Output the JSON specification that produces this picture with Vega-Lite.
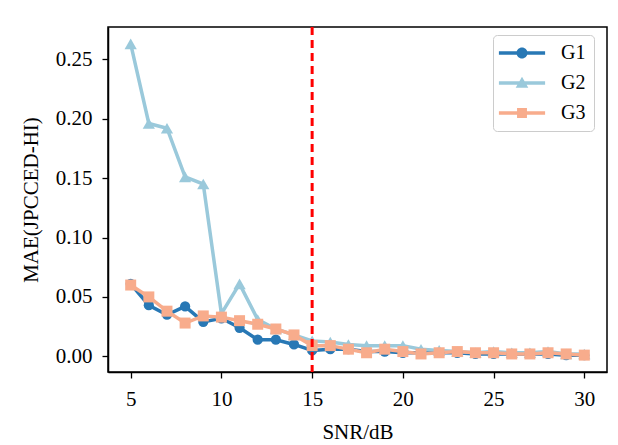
{
  "$schema": "https://vega.github.io/schema/vega-lite/v6.json",
  "autosize": "none",
  "width": 499,
  "height": 345,
  "padding": {"left": 108, "top": 27, "right": 11, "bottom": 73},
  "background": "white",
  "config": {
    "view": {"stroke": "black", "strokeWidth": 1.5},
    "font": "Liberation Serif",
    "axis": {
      "grid": false,
      "domainColor": "black",
      "domainWidth": 1.5,
      "tickColor": "black",
      "tickWidth": 1.3,
      "tickSize": 6,
      "labelFont": "Liberation Serif",
      "labelFontSize": 21,
      "labelColor": "black",
      "titleFont": "Liberation Serif",
      "titleFontSize": 21,
      "titleFontWeight": "normal",
      "titleColor": "black"
    }
  },
  "data": {"values": [
    {"snr":5,"g":"G1","mae":0.061},{"snr":6,"g":"G1","mae":0.043},{"snr":7,"g":"G1","mae":0.035},{"snr":8,"g":"G1","mae":0.042},{"snr":9,"g":"G1","mae":0.029},{"snr":10,"g":"G1","mae":0.032},{"snr":11,"g":"G1","mae":0.024},{"snr":12,"g":"G1","mae":0.014},{"snr":13,"g":"G1","mae":0.014},{"snr":14,"g":"G1","mae":0.010},{"snr":15,"g":"G1","mae":0.005},{"snr":16,"g":"G1","mae":0.006},{"snr":17,"g":"G1","mae":0.006},{"snr":18,"g":"G1","mae":0.004},{"snr":19,"g":"G1","mae":0.004},{"snr":20,"g":"G1","mae":0.003},{"snr":21,"g":"G1","mae":0.003},{"snr":22,"g":"G1","mae":0.003},{"snr":23,"g":"G1","mae":0.003},{"snr":24,"g":"G1","mae":0.002},{"snr":25,"g":"G1","mae":0.002},{"snr":26,"g":"G1","mae":0.002},{"snr":27,"g":"G1","mae":0.002},{"snr":28,"g":"G1","mae":0.002},{"snr":29,"g":"G1","mae":0.001},{"snr":30,"g":"G1","mae":0.001},
    {"snr":5,"g":"G2","mae":0.263},{"snr":6,"g":"G2","mae":0.196},{"snr":7,"g":"G2","mae":0.192},{"snr":8,"g":"G2","mae":0.151},{"snr":9,"g":"G2","mae":0.145},{"snr":10,"g":"G2","mae":0.036},{"snr":11,"g":"G2","mae":0.061},{"snr":12,"g":"G2","mae":0.031},{"snr":13,"g":"G2","mae":0.023},{"snr":14,"g":"G2","mae":0.018},{"snr":15,"g":"G2","mae":0.013},{"snr":16,"g":"G2","mae":0.012},{"snr":17,"g":"G2","mae":0.010},{"snr":18,"g":"G2","mae":0.009},{"snr":19,"g":"G2","mae":0.009},{"snr":20,"g":"G2","mae":0.009},{"snr":21,"g":"G2","mae":0.006},{"snr":22,"g":"G2","mae":0.005},{"snr":23,"g":"G2","mae":0.004},{"snr":24,"g":"G2","mae":0.003},{"snr":25,"g":"G2","mae":0.004},{"snr":26,"g":"G2","mae":0.003},{"snr":27,"g":"G2","mae":0.003},{"snr":28,"g":"G2","mae":0.004},{"snr":29,"g":"G2","mae":0.002},{"snr":30,"g":"G2","mae":0.002},
    {"snr":5,"g":"G3","mae":0.060},{"snr":6,"g":"G3","mae":0.050},{"snr":7,"g":"G3","mae":0.038},{"snr":8,"g":"G3","mae":0.028},{"snr":9,"g":"G3","mae":0.034},{"snr":10,"g":"G3","mae":0.033},{"snr":11,"g":"G3","mae":0.030},{"snr":12,"g":"G3","mae":0.027},{"snr":13,"g":"G3","mae":0.023},{"snr":14,"g":"G3","mae":0.018},{"snr":15,"g":"G3","mae":0.009},{"snr":16,"g":"G3","mae":0.009},{"snr":17,"g":"G3","mae":0.006},{"snr":18,"g":"G3","mae":0.003},{"snr":19,"g":"G3","mae":0.006},{"snr":20,"g":"G3","mae":0.004},{"snr":21,"g":"G3","mae":0.002},{"snr":22,"g":"G3","mae":0.003},{"snr":23,"g":"G3","mae":0.004},{"snr":24,"g":"G3","mae":0.003},{"snr":25,"g":"G3","mae":0.003},{"snr":26,"g":"G3","mae":0.002},{"snr":27,"g":"G3","mae":0.002},{"snr":28,"g":"G3","mae":0.003},{"snr":29,"g":"G3","mae":0.002},{"snr":30,"g":"G3","mae":0.001}
  ]},
  "encoding": {
    "x": {"field": "snr", "type": "quantitative", "title": "SNR/dB",
      "scale": {"domain": [3.75, 31.25], "nice": false, "zero": false},
      "axis": {"values": [5, 10, 15, 20, 25, 30], "labelPadding": 10, "titlePadding": 12}},
    "y": {"field": "mae", "type": "quantitative", "title": "MAE(JPCCED-HI)",
      "scale": {"domain": [-0.0132, 0.2772], "nice": false, "zero": false},
      "axis": {"values": [0, 0.05, 0.1, 0.15, 0.2, 0.25], "format": ".2f", "labelPadding": 10, "titlePadding": 14}}
  },
  "layer": [
    {"mark": {"type": "line", "strokeWidth": 3.5},
     "encoding": {"color": {"field": "g", "type": "nominal",
       "scale": {"domain": ["G1", "G2", "G3"], "range": ["#2878b5", "#9ac9db", "#f8ac8c"]},
       "legend": {
           "title": null,
           "orient": "none",
           "legendX": 385,
           "legendY": 8,
           "labelFont": "Liberation Serif",
           "labelFontSize": 20,
           "labelColor": "black",
           "labelOffset": 29,
           "symbolOffset": 11,
           "symbolSize": 121,
           "rowPadding": 10,
           "padding": 8,
           "strokeColor": "#cccccc",
           "fillColor": "white",
           "cornerRadius": 4,
           "symbolStrokeWidth": 0,
           "encode": {"symbols": {"update": {
             "shape": {"signal": "datum.value === 'G1' ? 'M-4.2,-0.3H4.2V0.3H-4.2Z M1,0A1,1 0 1,1 -1,0A1,1 0 1,1 1,0Z' : datum.value === 'G2' ? 'M-4.2,-0.3H4.2V0.3H-4.2Z M0,-1.15L1.15,0.85L-1.15,0.85Z' : 'M-4.2,-0.3H4.2V0.3H-4.2Z M-0.9,-0.9H0.9V0.9H-0.9Z'"},
             "fill": {"signal": "datum.value === 'G1' ? '#2878b5' : datum.value === 'G2' ? '#9ac9db' : '#f8ac8c'"},
             "opacity": {"value": 1}
           }}}
       }}}},
    {"transform": [{"filter": {"field": "g", "equal": "G1"}}],
     "mark": {"type": "point", "shape": "circle", "filled": true, "opacity": 1, "size": 105},
     "encoding": {"color": {"field": "g", "type": "nominal"}}},
    {"transform": [{"filter": {"field": "g", "equal": "G2"}}],
     "mark": {"type": "point", "shape": "triangle-up", "filled": true, "opacity": 1, "size": 150},
     "encoding": {"color": {"field": "g", "type": "nominal"}}},
    {"transform": [{"filter": {"field": "g", "equal": "G3"}}],
     "mark": {"type": "point", "shape": "square", "filled": true, "opacity": 1, "size": 121},
     "encoding": {"color": {"field": "g", "type": "nominal"}}},
    {"data": {"values": [{"snr": 15}]},
     "mark": {"type": "rule", "color": "#ff0000", "strokeWidth": 3, "strokeDash": [8, 5]},
     "encoding": {"x": {"field": "snr", "type": "quantitative"}, "y": null}}
  ]
}
